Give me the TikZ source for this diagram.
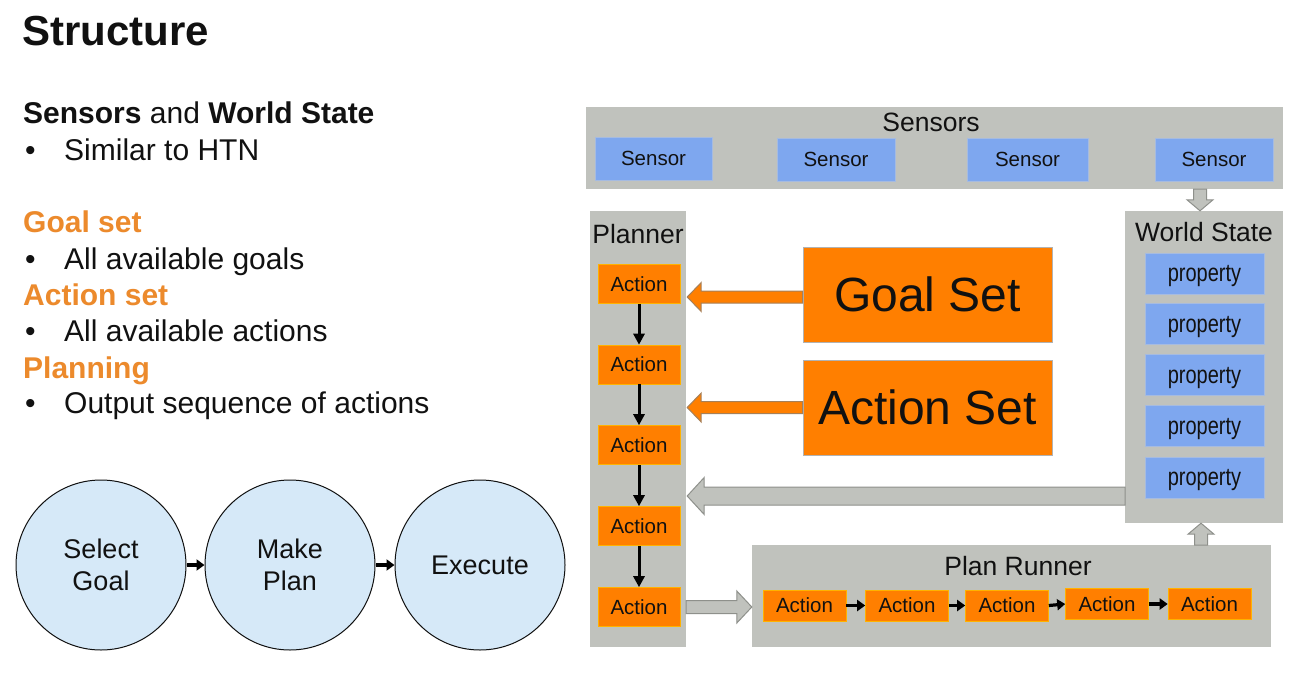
\documentclass[tikz,border=0pt]{standalone}
\usepackage{fontspec}
\setmainfont{Liberation Sans}
\newfontfamily\narrowfont[FakeStretch=0.8]{Liberation Sans}
\usetikzlibrary{arrows.meta,calc}
\definecolor{boxgray}{HTML}{C0C2BD}
\definecolor{arrgray}{HTML}{8E908B}
\definecolor{sblue}{HTML}{7EA7EF}
\definecolor{sorange}{HTML}{FF7F00}
\definecolor{lorange}{HTML}{EC8A2C}
\definecolor{cblue}{HTML}{D6E9F8}
\definecolor{ink}{HTML}{111111}
\tikzset{
  graybox/.style={fill=boxgray, draw=none, inner sep=0pt},
  bluebox/.style={fill=sblue, draw=sblue!85!black!60, line width=0.6pt, inner sep=0pt, text=ink, font=\fontsize{20.5}{24}\selectfont},
  propbox/.style={bluebox, minimum width=119pt, minimum height=41pt, text depth=0pt, font=\narrowfont\fontsize{25}{28}\selectfont},
  actbox/.style={fill=sorange, draw=orange!60!yellow, line width=0.6pt, inner sep=0pt, minimum width=82pt, minimum height=39pt, text=ink, font=\fontsize{20.5}{24}\selectfont},
  runbox/.style={actbox, minimum width=83pt, minimum height=31pt},
  bigset/.style={fill=sorange, draw=gray!60, line width=1pt, inner sep=0pt, minimum width=249pt, minimum height=95pt, text=ink, font=\fontsize{48}{56}\selectfont},
  heading/.style={anchor=base, text=ink, inner sep=0pt, font=\fontsize{26.5}{30}\selectfont},
  lefttext/.style={anchor=base west, inner sep=0pt, text=ink, font=\fontsize{30}{34}\selectfont},
  orangetext/.style={lefttext, text=lorange, font=\fontsize{30}{34}\selectfont\bfseries},
  phase/.style={circle, draw=ink, line width=1pt, fill=cblue, minimum size=170pt, inner sep=0pt, align=center, text=ink, font=\fontsize{27}{32}\selectfont},
  blackarrow/.style={draw=black, line width=3pt, -{Triangle[length=11pt,width=11pt]}},
  smallarrow/.style={draw=black, line width=3.2pt, -{Triangle[length=8pt,width=11pt]}},
  fatgray/.style={fill=boxgray, draw=arrgray, line width=1pt, line join=miter},
  fatorange/.style={fill=sorange, draw=gray!70!orange, line width=1pt, line join=miter},
}
\begin{document}
\begin{tikzpicture}[x=1pt,y=-1pt]
\useasboundingbox (0,0) rectangle (1293,672);
\fill[white] (0,0) rectangle (1293,672);

% left text
\node[lefttext, font=\fontsize{42}{46}\selectfont\bfseries] (title) at (22,45) {Structure};
\node[lefttext] (t1) at (23,123) {\textbf{Sensors} and \textbf{World State}};
\node[lefttext] (b1) at (25,160) {•};
\node[lefttext] (t2) at (64,160) {Similar to HTN};
\node[orangetext] (t3) at (23,232) {Goal set};
\node[lefttext] (b2) at (25,269) {•};
\node[lefttext] (t4) at (64,269) {All available goals};
\node[orangetext] (t5) at (23,305) {Action set};
\node[lefttext] (b3) at (25,341) {•};
\node[lefttext] (t6) at (64,341) {All available actions};
\node[orangetext] (t7) at (23,378) {Planning};
\node[lefttext] (b4) at (25,413) {•};
\node[lefttext] (t8) at (64,413) {Output sequence of actions};

% circles
\node[phase] (c1) at (101,565) {Select\\Goal};
\node[phase] (c2) at (290,565) {Make\\Plan};
\node[phase] (c3) at (480,565) {Execute};
\draw[smallarrow] (c1.east) -- (c2.west);
\draw[smallarrow] (c2.east) -- (c3.west);

% Sensors
\node[graybox, minimum width=697pt, minimum height=82pt] (sens) at (934.5,148) {};
\node[heading] (senslbl) at (931,131) {Sensors};
\node[bluebox, minimum width=117pt, minimum height=43pt] (s1) at (653.5,158.5) {Sensor};
\node[bluebox, minimum width=118pt, minimum height=43pt] (s2) at (836,159.5) {Sensor};
\node[bluebox, minimum width=121pt, minimum height=43pt] (s3) at (1027.5,159.5) {Sensor};
\node[bluebox, minimum width=118pt, minimum height=43pt] (s4) at (1214,159.5) {Sensor};

% Planner
\node[graybox, minimum width=96pt, minimum height=436pt] (pl) at (638,429) {};
\node[heading] (pllbl) at (638,243) {Planner};
\node[actbox] (a1) at (639,284) {Action};
\node[actbox] (a2) at (639,364.5) {Action};
\node[actbox] (a3) at (639,445) {Action};
\node[actbox] (a4) at (639,526) {Action};
\node[actbox] (a5) at (639,607) {Action};
\draw[blackarrow] (a1.south) -- (a2.north);
\draw[blackarrow] (a2.south) -- (a3.north);
\draw[blackarrow] (a3.south) -- (a4.north);
\draw[blackarrow] (a4.south) -- (a5.north);

% Goal / Action sets
\node[bigset] (gs) at (927.5,294.5) {Goal Set};
\node[bigset] (as) at (927.5,407.5) {Action Set};

% World State
\node[graybox, minimum width=158pt, minimum height=312pt] (ws) at (1204,367) {};
\node[heading] (wslbl) at (1204,241) {World State};
\node[propbox] (p1) at (1204.5,273.5) {property};
\node[propbox] (p2) at (1204.5,324) {property};
\node[propbox] (p3) at (1204.5,375) {property};
\node[propbox] (p4) at (1204.5,426) {property};
\node[propbox] (p5) at (1204.5,477.5) {property};

% Plan Runner
\node[graybox, minimum width=519pt, minimum height=102pt] (pr) at (1011.5,596) {};
\node[heading] (prlbl) at (1018,575) {Plan Runner};
\node[runbox] (r1) at (804.5,605.5) {Action};
\node[runbox] (r2) at (907,605.5) {Action};
\node[runbox] (r3) at (1007,605.5) {Action};
\node[runbox] (r4) at (1107,604) {Action};
\node[runbox] (r5) at (1209.5,604) {Action};
\draw[smallarrow] (r1.east) -- (r2.west);
\draw[smallarrow] (r2.east) -- (r3.west);
\draw[smallarrow] (r3.east) -- (r4.west);
\draw[smallarrow] (r4.east) -- (r5.west);

% fat arrows
% Goal set -> planner
\coordinate (gsout) at ($(gs.west)+(0,2.5)$);
\draw[fatorange] let \p1=(gsout), \p2=(pl.east) in
  (\x1,\y1+6pt) -- (\x2+15pt,\y1+6pt) -- (\x2+15pt,\y1+14.5pt) -- (\x2+1pt,\y1) --
  (\x2+15pt,\y1-14.5pt) -- (\x2+15pt,\y1-6pt) -- (\x1,\y1-6pt) -- cycle;
% Action set -> planner
\draw[fatorange] let \p1=(as.west), \p2=(pl.east) in
  (\x1,\y1+6pt) -- (\x2+15pt,\y1+6pt) -- (\x2+15pt,\y1+14.5pt) -- (\x2+1pt,\y1) --
  (\x2+15pt,\y1-14.5pt) -- (\x2+15pt,\y1-6pt) -- (\x1,\y1-6pt) -- cycle;
% World state -> planner
\coordinate (wsout) at (1125,496);
\draw[fatgray] let \p1=(wsout), \p2=(pl.east) in
  (\x1,\y1+9pt) -- (\x2+18pt,\y1+9pt) -- (\x2+18pt,\y1+18.5pt) -- (\x2+1pt,\y1) --
  (\x2+18pt,\y1-18.5pt) -- (\x2+18pt,\y1-9pt) -- (\x1,\y1-9pt) -- cycle;
% Planner -> plan runner
\draw[fatgray] let \p1=(pl.east), \p2=(pr.west), \p3=(a5.center) in
  (\x1,\y3+6.5pt) -- (\x2-15pt,\y3+6.5pt) -- (\x2-15pt,\y3+16pt) -- (\x2,\y3) --
  (\x2-15pt,\y3-16pt) -- (\x2-15pt,\y3-6.5pt) -- (\x1,\y3-6.5pt) -- cycle;
% Sensors -> world state
\coordinate (sdown) at (1200,189);
\draw[fatgray] let \p1=(sdown), \p2=(ws.north) in
  (\x1-6.5pt,\y1) -- (\x1-6.5pt,\y2+11pt) -- (\x1-13pt,\y2+11pt) -- (\x1,\y2) --
  (\x1+13pt,\y2+11pt) -- (\x1+6.5pt,\y2+11pt) -- (\x1+6.5pt,\y1) -- cycle;
% Plan runner -> world state
\coordinate (pup) at (1201,545);
\draw[fatgray] let \p1=(pup), \p2=(ws.south) in
  (\x1-6.5pt,\y1) -- (\x1-6.5pt,\y2-11pt) -- (\x1-13pt,\y2-11pt) -- (\x1,\y2) --
  (\x1+13pt,\y2-11pt) -- (\x1+6.5pt,\y2-11pt) -- (\x1+6.5pt,\y1) -- cycle;
\end{tikzpicture}
\end{document}
